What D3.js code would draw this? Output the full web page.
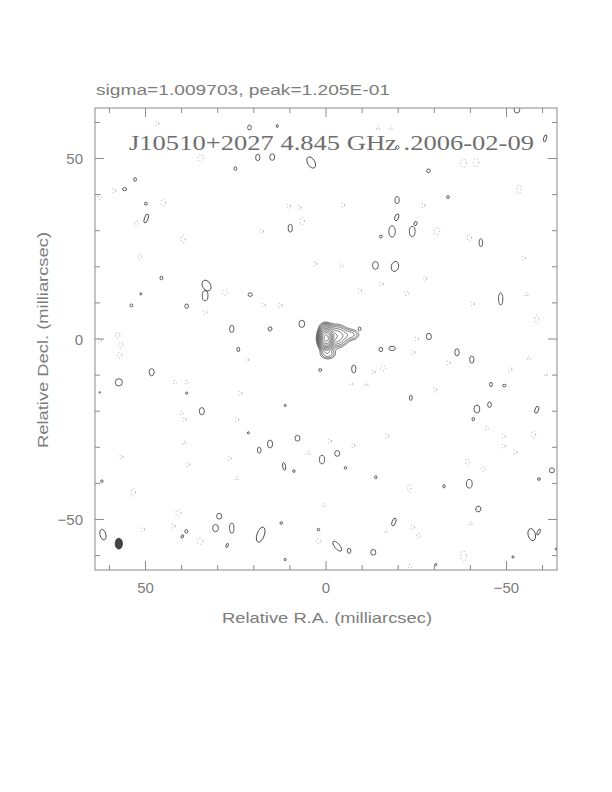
<!DOCTYPE html>
<html><head><meta charset="utf-8">
<script src="https://cdn.jsdelivr.net/npm/d3@7"></script>
<style>
html,body{margin:0;padding:0;background:#fff;}
svg{display:block;}
</style></head>
<body>
<script>
// ---------- data ----------
const titleText = "sigma=1.009703, peak=1.205E-01";
const mapTitle = "J10510+2027 4.845 GHz .2006-02-09";
const xLabel = "Relative R.A. (milliarcsec)";
const yLabel = "Relative Decl. (milliarcsec)";
const tickValues = [-60,-50,-40,-30,-20,-10,0,10,20,30,40,50,60];
const labelTicks = [-50, 0, 50];
// contour levels (mJy/beam), sqrt(2) spacing from ~3 sigma
const levels = [3, 4.24, 6, 8.5, 12, 17, 24, 34, 48, 68, 96];
// source model components: [RA, Dec, peak, sigmaRA, sigmaDec]
const components = [
  [0.0, 0.2, 110, 1.0, 1.45],
  [-3.0, 0.8, 16, 1.8, 1.8],
  [-7.2, 1.2, 6, 1.6, 1.1],
  [-0.5, -4.2, 7, 1.5, 1.0],
  [0.3, 3.4, 5, 1.1, 0.9]
];
// restoring beam: [RA, Dec, halfWidth, halfHeight]
const beam = [57.4, -56.7, 1.0, 1.5];
// positive noise contours: [RA, Dec, a, b, angle]
const posBlobs = [
 [21.2,58.6,.5,.7,0],[13.5,59.0,.3,.4,0],[-52.9,63.6,.8,1,0],[18.9,50.3,.6,.9,0],[14.9,50.4,.7,.9,0],
 [4.1,48.9,1.0,1.7,-30],[25.1,47.2,.4,.5,0],[52.9,44.2,.4,.5,0],[55.8,41.5,.6,.4,0],[49.9,37.5,.4,.4,0],
 [49.8,33.4,.5,1.3,20],[9.9,30.7,.6,1.1,0],[-19.8,53.1,.4,.5,0],[-60.7,55.6,.4,1.0,15],[-28.4,46.6,.5,.5,0],
 [-19.7,38.5,.6,1.0,0],[-33.8,39.3,.4,.4,0],[-19.6,33.7,.5,1.0,20],[-24.8,32.0,.4,.6,20],[-18.3,29.8,.9,1.6,0],
 [-23.9,29.8,.8,1.4,0],[-15.2,28.4,.4,.4,0],[-42.9,26.7,.5,1.1,0],[-13.7,20.4,.8,1.1,0],[-19.1,20.1,1.0,1.4,15],
 [45.6,16.9,.4,.5,0],[33.1,14.8,1.1,1.6,-30],[33.5,12.0,.8,1.4,0],[51.3,12.5,.3,.3,0],[21.0,12.3,.6,.5,0],
 [53.9,9.3,.4,.4,0],[38.6,9.1,.5,.6,0],[26.1,2.8,.6,1.0,0],[15.5,2.8,.5,.6,20],[6.7,4.2,.8,1.0,0],
 [24.3,-2.9,.4,.6,0],[1.6,-8.6,.4,.4,0],[48.3,-9.2,.7,1.0,0],[57.4,-12.0,1.0,1.0,0],[38.6,-15.0,.3,.3,0],
 [11.3,-18.4,.3,.3,0],[34.4,-20.0,.7,1.0,0],[-9.3,2.8,.4,.5,0],[-28.5,0.7,.7,.9,0],[-15.2,-2.9,.5,.6,0],
 [-18.3,-2.6,.9,.6,0],[-36.3,-3.7,.6,1.0,0],[-40.4,-5.7,.6,1.0,0],[-48.4,11.1,.6,1.7,0],[-7.7,-8.3,.6,1.1,0],
 [-45.7,-12.6,.4,.6,0],[-49.4,-12.9,.5,.35,0],[-23.5,-16.3,.4,.7,0],[-41.8,-19.4,.8,1.1,0],[-45.3,-18.2,.5,.8,0],
 [-58.4,-19.6,.5,1.0,20],[21.5,-26.0,.3,.3,0],[15.5,-29.1,.7,1.1,0],[7.9,-27.5,.7,.8,0],[18.5,-30.8,.5,.8,0],
 [1.1,-33.4,.7,1.2,0],[11.6,-35.3,.4,1.1,-10],[8.9,-36.6,.35,.35,0],[62.1,-39.4,.35,.35,0],[29.6,-49.1,.7,.8,0],
 [12.4,-51.0,.35,.35,0],[30.6,-52.4,.8,1.0,0],[26.1,-52.4,.6,1.4,0],[18.1,-54.2,1.0,2.2,20],[2.1,-52.8,.35,.35,0],
 [61.8,-54.2,.8,1.5,-15],[38.7,-53.3,.4,.5,0],[39.8,-54.7,.3,.5,30],[27.4,-57.2,.3,.6,20],[11.3,-61.1,.3,.3,0],
 [-40.8,-22.2,.35,.45,0],[-3.1,-31.7,.7,.8,0],[-5.4,-35.7,.35,.35,0],[-62.6,-36.4,.7,.7,0],[-13.8,-38.3,.35,.4,0],
 [-59.0,-38.8,.4,.35,0],[-32.7,-40.8,.35,.45,0],[-39.7,-40.1,.8,1.2,0],[-42.2,-47.1,.7,.8,20],[-18.8,-50.7,.5,1.1,20],
 [-57.0,-54.2,1.0,1.7,-15],[-58.9,-53.5,.35,.9,25],[-3.1,-57.4,.7,1.7,-40],[-6.4,-58.7,.5,.7,0],[-13.1,-59.1,.7,.8,0],
 [-51.8,-60.4,.3,.3,0],[-30.4,-62.5,.3,.3,0],[-63.8,-58.2,.3,.3,0],[62.7,-14.8,.2,.2,0]
];
// negative noise contours (dotted): [RA, Dec, a, b]
const negBlobs = [
 [46.8,59.7,.5,.6],[34.7,50.1,.8,1],[58.7,41.1,.5,.6],[62.7,39.3,.5,.7],[45.1,37.8,.6,1],
 [52.5,32.0,.5,.7],[39.6,27.6,.6,1],[51.6,22.8,.5,.7],[17.8,29.8,.5,.6],[10.3,36.8,.5,.6],
 [7.4,36.4,.5,.6],[6.6,32.7,.6,1],[-14.4,58.4,.4,.5],[-17.9,58.4,.4,.5],[-38.1,48.7,.8,1.1],
 [-41.5,48.9,.8,1.1],[-53.5,41.5,.6,1.2],[-4.7,37.1,.5,.6],[-26.9,37.0,.5,.6],[-30.7,29.9,.8,1],
 [-39.7,28.1,.6,1],[-54.7,22.4,.5,.6],[28.0,12.9,.8,.7],[17.3,9.4,.5,.6],[12.7,9.3,.5,.6],
 [33.5,7.4,.6,.6],[3.0,20.8,.5,.6],[57.7,1.0,.6,.8],[56.9,-1.7,.6,.8],[57.2,-4.5,.6,.8],
 [62.7,-0.4,.5,.6],[21.9,-5.8,.5,.6],[41.9,-12.0,.5,.5],[38.6,-12.0,.5,.5],[23.8,-15.0,.5,.6],
 [40.0,-20.5,.5,.5],[-4.3,20.3,.5,.5],[-27.4,16.8,.5,.6],[-15.4,15.2,.5,.6],[-9.3,13.4,.5,.6],
 [-22.3,12.7,.6,.6],[-55.6,12.3,.4,.5],[-40.6,9.7,.5,.6],[-58.4,5.5,.6,1.1],[-25.1,0.0,.5,.6],
 [-24.2,-3.7,.5,.6],[-33.9,-6.6,.5,.6],[-56.1,-5.3,.4,.5],[-15.8,-8.1,.8,.7],[-13.1,-9.2,.5,.6],
 [-51.0,-8.5,.5,.6],[-60.9,-10.0,.4,.4],[-7.0,-12.5,.4,.4],[-11.2,-12.7,.4,.4],[-30.2,-14.1,.5,.6],
 [39.3,-22.3,.5,.6],[24.7,-22.3,.5,.6],[4.8,-31.6,.4,.5],[56.7,-32.7,.5,.6],[39.3,-28.8,.4,.5],
 [26.8,-33.1,.5,.6],[38.2,-34.8,.5,.6],[24.7,-38.7,.4,.5],[53.4,-42.5,.6,1],[0.7,-46.1,.4,.5],
 [40.9,-48.2,.7,.9],[50.8,-52.8,.5,.6],[42.3,-51.9,.5,.6],[34.9,-56.0,.8,.9],[2.1,-56.0,.7,.7],
 [-44.5,-24.7,.5,.5],[-1.0,-28.3,.5,.6],[-7.5,-29.5,.5,.6],[-16.9,-26.8,.5,.6],[-49.2,-27.0,.5,.6],
 [-49.2,-29.7,.5,.6],[-57.5,-26.5,.6,1],[-52.4,-31.4,.5,.6],[-39.2,-34.1,.5,1],[-43.6,-36.0,.5,.7],
 [-23.1,-41.3,.5,1],[-40.1,-51.2,.4,.5],[-24.0,-52.2,.5,.6],[-16.6,-53.3,.4,.5],[-25.6,-54.5,.5,.7],
 [-38.1,-60.2,.8,1.5],[-23.2,-63.0,.5,.5]
];

// ---------- drawing ----------
const W = 612, H = 792;
const svg = d3.select("body").append("svg").attr("width", W).attr("height", H);
const x = d3.scaleLinear().domain([64, -64]).range([95, 557]);
const y = d3.scaleLinear().domain([-64, 64]).range([570, 108]);
const sx = Math.abs(x(1) - x(0)), sy = Math.abs(y(1) - y(0));

const frameCol = "#8a8a8a", textCol = "#7c7c7c", lineCol = "#404040";
const fontSans = "'DejaVu Sans ExtraLight', 'Liberation Sans', 'DejaVu Sans', sans-serif";

// top title
svg.append("text").attr("x", 96).attr("y", 95)
  .attr("font-family", fontSans).attr("font-size", 14).attr("fill", textCol)
  .attr("textLength", 294).attr("lengthAdjust", "spacingAndGlyphs").text(titleText);

const plot = svg.append("g");
plot.append("defs").append("clipPath").attr("id", "clip")
  .append("rect").attr("x", x(64)).attr("y", y(64)).attr("width", x(-64) - x(64)).attr("height", y(-64) - y(64));
const inner = plot.append("g").attr("clip-path", "url(#clip)");

// negative blobs (dotted)
inner.selectAll("ellipse.neg").data(negBlobs).enter().append("ellipse")
  .attr("class", "neg")
  .attr("cx", d => x(d[0])).attr("cy", d => y(d[1]))
  .attr("rx", d => d[2] * sx).attr("ry", d => d[3] * sy)
  .attr("fill", "none").attr("stroke", "#999").attr("stroke-width", 0.9)
  .attr("stroke-dasharray", "1,2.4");

// positive blobs
inner.selectAll("ellipse.pos").data(posBlobs).enter().append("ellipse")
  .attr("class", "pos")
  .attr("transform", d => `translate(${x(d[0])},${y(d[1])}) rotate(${d[4]})`)
  .attr("rx", d => d[2] * sx).attr("ry", d => d[3] * sy)
  .attr("fill", "none").attr("stroke", lineCol).attr("stroke-width", 0.85);

// beam
inner.append("ellipse")
  .attr("cx", x(beam[0])).attr("cy", y(beam[1]))
  .attr("rx", beam[2] * sx).attr("ry", beam[3] * sy)
  .attr("fill", "#444").attr("stroke", "#2a2a2a").attr("stroke-width", 0.8);

// central source contours via d3.contours
const step = 0.15, ra0 = 12, dec0 = 10;
const nx = Math.round(26 / step) + 1, ny = Math.round(20 / step) + 1;
const grid = new Float64Array(nx * ny);
for (let j = 0; j < ny; j++) {
  for (let i = 0; i < nx; i++) {
    const ra = ra0 - i * step, dec = dec0 - j * step;
    let v = 0;
    for (const c of components) {
      const dx = (ra - c[0]) / c[3], dy = (dec - c[1]) / c[4];
      v += c[2] * Math.exp(-0.5 * (dx * dx + dy * dy));
    }
    grid[j * nx + i] = v;
  }
}
const cont = d3.contours().size([nx, ny]).thresholds(levels)(grid);
const proj = d3.geoTransform({
  point: function(gx, gy) {
    this.stream.point(x(ra0 - (gx - 0.5) * step), y(dec0 - (gy - 0.5) * step));
  }
});
const path = d3.geoPath(proj);
inner.selectAll("path.src").data(cont).enter().append("path")
  .attr("class", "src").attr("d", path)
  .attr("fill", "none").attr("stroke", lineCol).attr("stroke-width", 0.75);

// frame
plot.append("rect").attr("x", x(64)).attr("y", y(64))
  .attr("width", x(-64) - x(64)).attr("height", y(-64) - y(64))
  .attr("fill", "none").attr("stroke", frameCol).attr("stroke-width", 1);

// ticks (inward on all four sides)
const tlen = v => (v % 50 === 0 ? 9 : 5);
const tk = plot.append("g").attr("stroke", frameCol).attr("stroke-width", 1);
tickValues.forEach(v => {
  tk.append("line").attr("x1", x(v)).attr("x2", x(v)).attr("y1", y(-64)).attr("y2", y(-64) - tlen(v));
  tk.append("line").attr("x1", x(v)).attr("x2", x(v)).attr("y1", y(64)).attr("y2", y(64) + tlen(v));
  tk.append("line").attr("y1", y(v)).attr("y2", y(v)).attr("x1", x(64)).attr("x2", x(64) + tlen(v));
  tk.append("line").attr("y1", y(v)).attr("y2", y(v)).attr("x1", x(-64)).attr("x2", x(-64) - tlen(v));
});

const fmt = v => (v < 0 ? "\u2212" + Math.abs(v) : String(v));
// x tick labels
plot.selectAll("text.xt").data(labelTicks).enter().append("text")
  .attr("x", d => x(d)).attr("y", 593).attr("text-anchor", "middle")
  .attr("font-family", fontSans).attr("font-size", 15).attr("fill", textCol).text(fmt);
// y tick labels
plot.selectAll("text.yt").data(labelTicks).enter().append("text")
  .attr("x", 83).attr("y", d => y(d) + 5.5).attr("text-anchor", "end")
  .attr("font-family", fontSans).attr("font-size", 15).attr("fill", textCol).text(fmt);

// axis titles
svg.append("text").attr("x", 222).attr("y", 623)
  .attr("font-family", fontSans).attr("font-size", 15).attr("fill", textCol)
  .attr("textLength", 210).attr("lengthAdjust", "spacingAndGlyphs").text(xLabel);
svg.append("text").attr("transform", "translate(48,448) rotate(-90)")
  .attr("font-family", fontSans).attr("font-size", 15).attr("fill", textCol)
  .attr("textLength", 216).attr("lengthAdjust", "spacingAndGlyphs").text(yLabel);

// map title inside the plot
svg.append("text").attr("x", 129).attr("y", 150)
  .attr("font-family", "'Liberation Serif', 'DejaVu Serif', serif").attr("font-size", 22)
  .attr("fill", "#6e6e6e").attr("textLength", 405).attr("lengthAdjust", "spacingAndGlyphs")
  .text(mapTitle);
</script>
</body></html>
